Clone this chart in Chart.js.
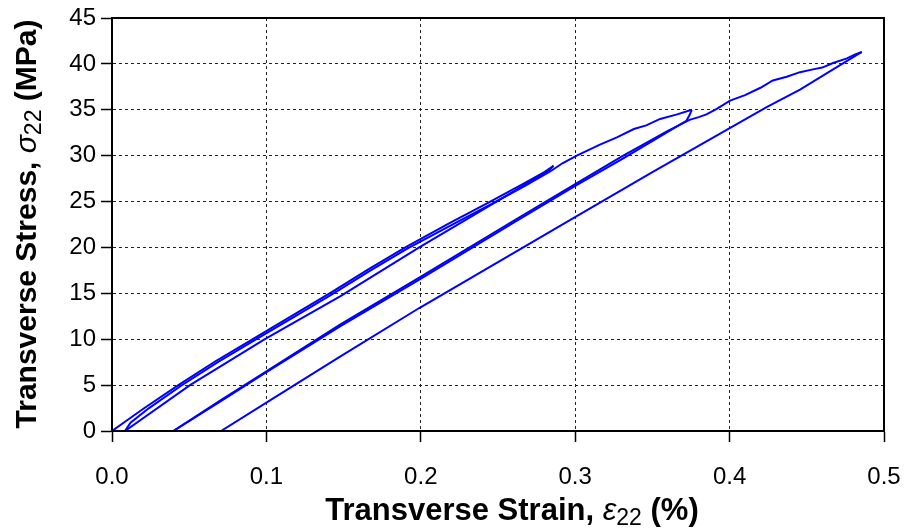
<!DOCTYPE html>
<html>
<head>
<meta charset="utf-8">
<title>Transverse stress-strain</title>
<script src="https://cdn.jsdelivr.net/npm/chart.js"></script>
<style>
    html, body { margin: 0; padding: 0; background: #ffffff; }
    #wrap { width: 904px; height: 530px; }
</style>
</head>
<body>
<div id="wrap"><canvas id="stressChart" width="904" height="530"></canvas></div>
<script>
// Axis ticks
const xTicks = [0.0, 0.1, 0.2, 0.3, 0.4, 0.5];
const yTicks = [0, 5, 10, 15, 20, 25, 30, 35, 40, 45];

// Cycle 1 - loading
const load1Strain = [0, 0.010, 0.021, 0.043, 0.067, 0.092, 0.117, 0.142, 0.166, 0.190, 0.218, 0.245, 0.266, 0.280, 0.286];
const load1Stress = [0, 1.2, 2.5, 5.0, 7.6, 10.1, 12.6, 15.1, 17.6, 20.0, 22.6, 25.0, 26.9, 28.2, 28.9];

// Cycle 1 - unloading
const unload1Strain = [0.286, 0.283, 0.249, 0.199, 0.148, 0.099, 0.0505, 0.0084];
const unload1Stress = [28.9, 28.4, 25.0, 20.0, 14.7, 10.0, 5.0, 0];

// Cycle 2 - reloading past the first peak
const reload2Strain = [0.0084, 0.012, 0.024, 0.0445, 0.0685, 0.0935, 0.1185, 0.1435, 0.1675, 0.1915, 0.2195, 0.2465, 0.2675, 0.284, 0.292, 0.301, 0.316, 0.327, 0.338, 0.346, 0.355, 0.366, 0.3755];
const reload2Stress = [0, 0.9, 2.5, 4.9, 7.5, 10.0, 12.5, 15.0, 17.5, 19.9, 22.4, 24.8, 26.7, 28.3, 29.2, 30.0, 31.2, 32.0, 32.9, 33.3, 34.0, 34.5, 35.0];

// Cycle 2 - unloading
const unload2Strain = [0.3755, 0.374, 0.372, 0.330, 0.300, 0.262, 0.199, 0.1477, 0.100, 0.070, 0.0397];
const unload2Stress = [35.0, 34.4, 33.8, 29.6, 26.7, 22.9, 16.5, 11.4, 6.4, 3.2, 0];

// Cycle 3 - reloading to final peak
const reload3Strain = [0.0397, 0.070, 0.100, 0.1477, 0.199, 0.262, 0.300, 0.330, 0.360, 0.374, 0.380, 0.385, 0.3917, 0.4003, 0.410, 0.420, 0.428, 0.437, 0.4456, 0.454, 0.460, 0.467, 0.476, 0.481, 0.4856];
const reload3Stress = [0, 3.3, 6.5, 11.6, 16.7, 23.1, 26.9, 29.9, 32.7, 33.9, 34.2, 34.5, 35.1, 36.0, 36.6, 37.4, 38.2, 38.6, 39.1, 39.4, 39.6, 40.1, 40.6, 41.0, 41.3];

// Cycle 3 - unloading
const unload3Strain = [0.4856, 0.4456, 0.424, 0.350, 0.2988, 0.250, 0.199, 0.1477, 0.100, 0.0706];
const unload3Stress = [41.3, 37.2, 35.3, 28.2, 23.2, 18.4, 13.4, 8.1, 3.1, 0];

const segments = [
    [load1Strain, load1Stress],
    [unload1Strain, unload1Stress],
    [reload2Strain, reload2Stress],
    [unload2Strain, unload2Stress],
    [reload3Strain, reload3Stress],
    [unload3Strain, unload3Stress]
];

const FONT = "'Liberation Sans', Arial, sans-serif";
const LEFT_W = 112;
const BOTTOM_H = 99;

// Draw the axis titles (mixed bold / italic / subscript) and the plot frame
const titlesPlugin = {
    id: 'titles',
    afterDraw(chart) {
        const ctx = chart.ctx;
        const area = chart.chartArea;

        ctx.save();
        ctx.strokeStyle = '#000';
        ctx.lineWidth = 2;
        ctx.strokeRect(area.left, area.top, area.right - area.left, area.bottom - area.top);
        ctx.restore();

        const drawParts = (parts, cx, baseY, rotate) => {
            ctx.save();
            ctx.fillStyle = '#000';
            ctx.textBaseline = 'alphabetic';
            let total = 0;
            parts.forEach(p => { ctx.font = p.font; total += ctx.measureText(p.text).width; });
            ctx.translate(rotate ? baseY : cx, rotate ? cx : baseY);
            if (rotate) ctx.rotate(-Math.PI / 2);
            let x = -total / 2;
            parts.forEach(p => {
                ctx.font = p.font;
                ctx.fillText(p.text, x, p.dy || 0);
                x += ctx.measureText(p.text).width;
            });
            ctx.restore();
        };

        drawParts([
            { text: 'Transverse Strain, ', font: 'bold 31px ' + FONT },
            { text: 'ε', font: 'italic 31px ' + FONT },
            { text: '22', font: '23px ' + FONT, dy: 5 },
            { text: ' (%)', font: 'bold 31px ' + FONT }
        ], 512, 520, false);

        drawParts([
            { text: 'Transverse Stress, ', font: 'bold 30px ' + FONT },
            { text: 'σ', font: 'italic 30px ' + FONT },
            { text: '22', font: '23px ' + FONT, dy: 5 },
            { text: ' (MPa)', font: 'bold 30px ' + FONT }
        ], 224, 36, true);
    }
};

const ctx = document.getElementById('stressChart').getContext('2d');
const chart = new Chart(ctx, {
    type: 'scatter',
    data: {
        datasets: segments.map(([xs, ys]) => ({
            data: xs.map((x, i) => ({ x: x, y: ys[i] })),
            showLine: true,
            borderColor: '#0000ff',
            borderWidth: 2,
            pointRadius: 0,
            tension: 0,
            fill: false
        }))
    },
    options: {
        responsive: false,
        animation: false,
        events: [],
        layout: { padding: { left: 0, top: 18, right: 20, bottom: 0 } },
        plugins: {
            legend: { display: false },
            tooltip: { enabled: false }
        },
        scales: {
            x: {
                type: 'linear',
                min: xTicks[0],
                max: xTicks[xTicks.length - 1],
                afterBuildTicks: (scale) => { scale.ticks = xTicks.map(v => ({ value: v })); },
                afterFit: (scale) => {
                    scale.height = BOTTOM_H;
                    scale.paddingLeft = 0;
                    scale.paddingRight = 0;
                },
                ticks: {
                    color: '#000',
                    font: { family: FONT, size: 24 },
                    padding: 21,
                    maxRotation: 0,
                    callback: (v) => Number(v).toFixed(1)
                },
                grid: {
                    color: '#222',
                    lineWidth: 1,
                    tickLength: 11,
                    tickColor: '#000',
                    tickWidth: 1.5
                },
                border: { display: true, color: '#000', width: 2, dash: [3, 3] }
            },
            y: {
                type: 'linear',
                min: yTicks[0],
                max: yTicks[yTicks.length - 1],
                afterBuildTicks: (scale) => { scale.ticks = yTicks.map(v => ({ value: v })); },
                afterFit: (scale) => {
                    scale.width = LEFT_W;
                    scale.paddingTop = 0;
                    scale.paddingBottom = 0;
                },
                ticks: {
                    color: '#000',
                    font: { family: FONT, size: 24 },
                    padding: 5
                },
                grid: {
                    color: '#222',
                    lineWidth: 1,
                    tickLength: 11,
                    tickColor: '#000',
                    tickWidth: 1.5
                },
                border: { display: true, color: '#000', width: 2, dash: [3, 3] }
            }
        }
    },
    plugins: [titlesPlugin]
});
</script>
</body>
</html>
